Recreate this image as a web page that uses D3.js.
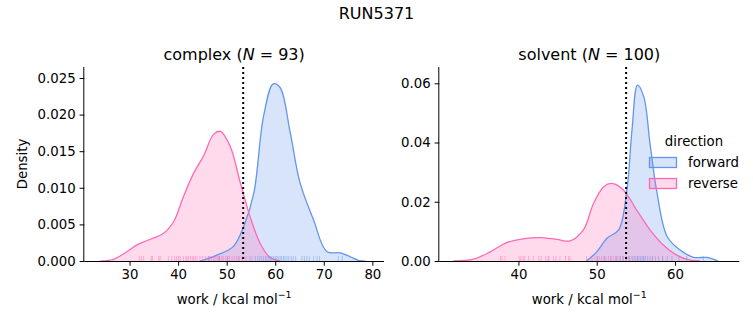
<!DOCTYPE html>
<html><head><meta charset="utf-8">
<script src="https://cdn.jsdelivr.net/npm/d3@7"></script>
<style>body{margin:0;background:#fff}svg{font-family:"DejaVu Sans",sans-serif}</style>
</head><body><svg id="c" width="753" height="325"></svg>
<script>
// ---- data ----
const complexForwardX = [44.5,48,51.4,53.5,55.6,57.6,59.6,61,63.1,65.1,67.9,70.6,73.4,75.4,77.1,78.5];
const complexForwardD = [0,0.0008,0.002,0.0047,0.0093,0.0198,0.0242,0.0237,0.0175,0.0107,0.0056,0.0013,0.0011,0.0006,0.0001,0];
const complexReverseX = [24,26.7,29.5,31.5,33.6,37,39.1,41.1,43.2,45.2,47.3,48.7,50.7,52.8,54.8,56.9,58.9,61];
const complexReverseD = [0,0.00023,0.0013,0.0022,0.0028,0.0038,0.0054,0.0088,0.012,0.0143,0.0173,0.0177,0.0157,0.0107,0.0061,0.0024,0.0005,0];
const solventForwardX = [48.7,50,51.3,52.8,53.85,54.5,55.2,56,56.8,57.7,59,60.65,62.35,64.06,65.5];
const solventForwardD = [0,0.0031,0.0077,0.0105,0.024,0.0442,0.0594,0.0555,0.0397,0.0229,0.0082,0.0037,0.00125,0.0012,0];
const solventReverseX = [31.7,34.25,36.4,38.5,40.6,42.8,44.9,46.6,48.3,49.6,50.9,51.9,53.4,55.1,56.8,58.5,60.2,61.9,63.2];
const solventReverseD = [0,0.0006,0.0031,0.0062,0.0075,0.0079,0.0073,0.0068,0.0105,0.0195,0.0251,0.0262,0.024,0.0172,0.0105,0.0054,0.002,0.0003,0];

const complexReverseRug = [32.0,32.4,32.9,34.5,34.7,36.0,36.3,38.0,38.7,39.3,39.7,40.1,40.4,41.1,41.6,41.8,42.1,42.5,42.9,43.2,43.5,43.9,44.5,45.0,45.6,46.2,46.5,46.9,47.3,47.6,48.0,48.3,48.6,49.0,49.3,49.8,50.2,50.6,51.1,51.5,52.0,52.6,53.2,54.0,55.2];
const complexForwardRug = [46.3,48.5,50.2,52.4,54.8,55.9,56.4,56.8,57.2,57.6,58.0,58.3,58.7,59.0,59.3,59.7,60.0,60.3,60.6,61.0,61.3,61.7,62.0,62.4,62.8,63.3,63.7,64.2,65.5,66.0,66.5,67.0,67.9,68.6,69.1,73.0,73.8];
const solventReverseRug = [37.7,37.9,38.3,40.1,40.3,40.6,40.8,41.3,41.9,42.6,42.9,43.5,43.8,43.9,44.5,44.8,45.3,46.0,46.4,46.6,48.7,49.4,49.9,50.3,50.6,50.9,51.2,51.5,51.8,52.1,52.4,52.7,53.0,53.3,53.7,54.1,54.6,55.2,56.0,57.1,58.4];
const solventForwardRug = [50.1,51.0,51.8,52.5,53.0,53.4,53.8,54.2,54.5,54.8,55.0,55.2,55.4,55.6,55.8,56.0,56.2,56.5,56.8,57.1,57.5,57.9,58.4,59.0,59.6,60.5,61.5,63.6];

const complexXTicks = [30,40,50,60,70,80];
const complexYTicks = [0,0.005,0.010,0.015,0.020,0.025];
const solventXTicks = [40,50,60];
const solventYTicks = [0,0.02,0.04,0.06];
const complexRef = 53.4, solventRef = 53.75;

const blue = "#6495ED", pink = "#FF69B4";
const svg = d3.select("#c");

svg.append("text").attr("x",376.5).attr("y",19).attr("text-anchor","middle")
  .attr("font-size","16px").text("RUN5371");

function panel(o){
  const g = svg.append("g");
  const x = d3.scaleLinear().domain(o.xd).range([o.l,o.r]);
  const y = d3.scaleLinear().domain(o.yd).range([261,67]);
  const curve = d3.curveCatmullRom.alpha(0.5);
  const area = d3.area().curve(curve).x(d=>x(d[0])).y0(y(0)).y1(d=>y(d[1]));
  const line = d3.line().curve(curve).x(d=>x(d[0])).y(d=>y(d[1]));
  g.append("clipPath").attr("id","cl"+o.name).append("rect")
    .attr("x",o.l).attr("y",60).attr("width",o.r-o.l).attr("height",201);
  o.series.forEach(s=>{
    const pts = s.x.map((v,i)=>[v,s.d[i]]);
    g.append("path").attr("d",area(pts)).attr("fill",s.c).attr("fill-opacity",0.25).attr("clip-path",`url(#cl${o.name})`);
  });
  o.series.forEach(s=>{
    const pts = s.x.map((v,i)=>[v,s.d[i]]);
    g.append("path").attr("d",line(pts)).attr("fill","none").attr("stroke",s.c).attr("stroke-width",1.3).attr("clip-path",`url(#cl${o.name})`);
  });
  o.series.forEach(s=>{
    g.selectAll(null).data(s.rug).enter().append("line")
      .attr("x1",d=>x(d)).attr("x2",d=>x(d)).attr("y1",261).attr("y2",256)
      .attr("stroke",s.c).attr("stroke-opacity",0.45).attr("stroke-width",1);
  });
  g.append("line").attr("x1",x(o.ref)).attr("x2",x(o.ref)).attr("y1",67).attr("y2",261)
    .attr("stroke","#000").attr("stroke-width",2).attr("stroke-dasharray","2,3");
  const xa = g.append("g").attr("transform","translate(0,261)")
    .call(d3.axisBottom(x).tickValues(o.xt).tickSize(4.7).tickPadding(4).tickFormat(d3.format("d")));
  const ya = g.append("g").attr("transform",`translate(${o.l},0)`)
    .call(d3.axisLeft(y).tickValues(o.yt).tickSize(4.7).tickPadding(4).tickFormat(d3.format(o.yf)));
  [xa,ya].forEach(a=>{
    a.selectAll("text").attr("font-size","13.3px").attr("fill","#000").attr("font-family","DejaVu Sans");
    a.selectAll("line").attr("stroke","#000");
    a.select(".domain").attr("stroke","#000").attr("stroke-width",1);
  });
  xa.select(".domain").attr("d",`M${o.l},0.5H${o.r}`);
  ya.select(".domain").attr("d",`M-0.5,261V67`);
  const t = g.append("text").attr("x",(o.l+o.r)/2).attr("y",60).attr("text-anchor","middle").attr("font-size","16px");
  t.append("tspan").text(o.name+" (");
  t.append("tspan").attr("font-style","italic").text("N");
  t.append("tspan").text(" = "+o.n+")");
  const xl = g.append("text").attr("x",(o.l+o.r)/2).attr("y",304).attr("text-anchor","middle").attr("font-size","13.3px");
  xl.append("tspan").text("work / kcal mol");
  xl.append("tspan").attr("font-size","9.5px").attr("dy",-6).text("−1");
}

panel({name:"complex",n:93,l:84.3,r:384,xd:[20.68,82.4],yd:[0,0.0265],ref:complexRef,xt:complexXTicks,yt:complexYTicks,yf:".3f",
  series:[{x:complexForwardX,d:complexForwardD,c:blue,rug:complexForwardRug},{x:complexReverseX,d:complexReverseD,c:pink,rug:complexReverseRug}]});
panel({name:"solvent",n:100,l:439.3,r:739.3,xd:[29.9,68.2],yd:[0,0.0655],ref:solventRef,xt:solventXTicks,yt:solventYTicks,yf:".2f",
  series:[{x:solventForwardX,d:solventForwardD,c:blue,rug:solventForwardRug},{x:solventReverseX,d:solventReverseD,c:pink,rug:solventReverseRug}]});

svg.append("text").attr("x",22).attr("y",164).attr("transform","rotate(-90,22,164)")
  .attr("text-anchor","middle").attr("dy","0.35em").attr("font-size","13.3px").text("Density");

// legend
const legendLabels = ["forward","reverse"], legendColors = [blue,pink];
svg.append("text").attr("x",694).attr("y",146).attr("text-anchor","middle").attr("font-size","13.3px").text("direction");
legendLabels.forEach((lab,i)=>{
  const yy = 157.5 + i*21;
  svg.append("rect").attr("x",649.5).attr("y",yy).attr("width",27).attr("height",10)
    .attr("fill",legendColors[i]).attr("fill-opacity",0.25).attr("stroke",legendColors[i]).attr("stroke-width",1.3);
  svg.append("text").attr("x",688).attr("y",yy+9).attr("font-size","13.3px").text(lab);
});
</script></body></html>
